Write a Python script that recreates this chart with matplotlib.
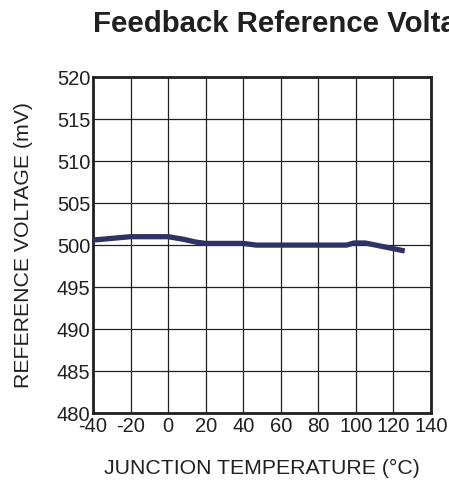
import matplotlib.pyplot as plt

# Data
temps = [-40, -20, 0, 8, 15, 20, 40, 47, 95, 99, 105, 126]
vref = [500.6, 501.0, 501.0, 500.7, 500.35, 500.2, 500.2, 500.0, 500.0, 500.25, 500.25, 499.3]

xticks = list(range(-40, 141, 20))
yticks = list(range(480, 521, 5))

plt.rcParams['font.family'] = ['Liberation Sans', 'DejaVu Sans']
plt.rcParams['axes.unicode_minus'] = False
txt = '#231f20'

fig = plt.figure(figsize=(4.49, 4.82), dpi=100)
ax = fig.add_axes([0.207, 0.143, 0.753, 0.697])

ax.plot(temps, vref, color='#2e3264', lw=3.8, solid_capstyle='butt', zorder=3)

ax.set_xlim(-40, 140)
ax.set_ylim(480, 520)
ax.set_xticks(xticks)
ax.set_yticks(yticks)
ax.grid(True, color='#231f20', lw=0.9)
ax.tick_params(length=0, labelsize=14.5, colors=txt)
ax.tick_params(axis='y', pad=2)
ax.tick_params(axis='x', pad=3)
for s in ax.spines.values():
    s.set_linewidth(2)
    s.set_color('#231f20')

ax.set_xlabel('JUNCTION TEMPERATURE (°C)', fontsize=15.3, color=txt, labelpad=16)
ax.set_ylabel('REFERENCE VOLTAGE (mV)', fontsize=15.3, color=txt, labelpad=17)

fig.text(0.207, 0.934, 'Feedback Reference Voltage', fontsize=21.2, fontweight='bold',
         color=txt, ha='left', va='baseline')

fig.savefig('out.png', dpi=100)
